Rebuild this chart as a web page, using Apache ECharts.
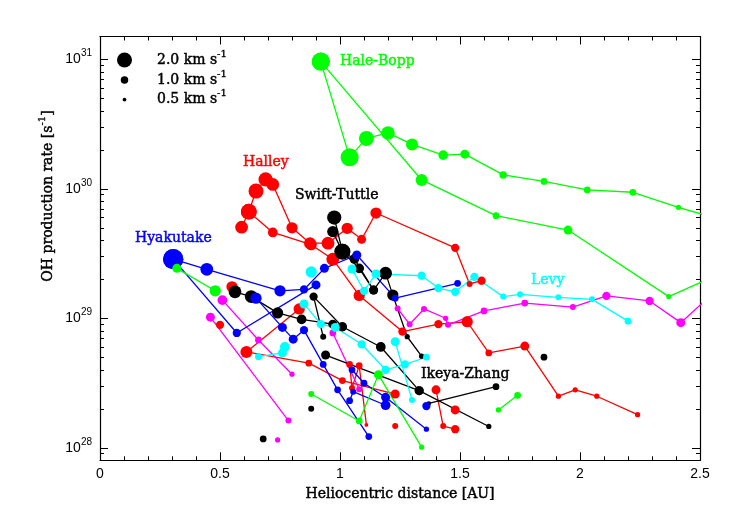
<!DOCTYPE html>
<html>
<head>
<meta charset="utf-8">
<script src="https://cdn.jsdelivr.net/npm/echarts@6/dist/echarts.min.js"></script>
<style>
  html, body { margin: 0; padding: 0; background: #fff; }
  #chart { width: 747px; height: 523px; }
</style>
</head>
<body>
<div id="chart"></div>
<script>
// each point: [heliocentric distance (AU), OH production rate (s^-1), velocity (km/s)]
const haleBoppA = [[0.92, 9.6e30, 2.4], [1.04, 1.75e30, 2.4], [1.11, 2.45e30, 2.0], [1.20, 2.7e30, 1.8], [1.30, 2.2e30, 1.6],
  [1.43, 1.82e30, 1.3], [1.52, 1.85e30, 1.2], [1.68, 1.28e30, 1.0], [1.85, 1.14e30, 0.9], [2.03, 9.8e29, 0.9],
  [2.22, 9.4e29, 0.9], [2.41, 7.2e29, 0.7], [2.58, 5.8e29, 0.7]];
const haleBoppB = [[0.92, 9.6e30, 2.4], [1.34, 1.17e30, 1.6], [1.65, 6.2e29, 0.9], [1.95, 4.8e29, 1.2], [2.37, 1.47e29, 0.7], [2.67, 2.6e29, 0.7]];
const greenC = [[0.32, 2.43e29, 1.2], [0.48, 1.63e29, 1.5]];
const greenD = [[0.88, 2.6e28, 0.8], [1.08, 1.61e28, 0.9], [1.16, 3.67e28, 1.2], [1.34, 1.01e28, 0.7]];
const greenE = [[1.66, 1.96e28, 0.7], [1.74, 2.54e28, 0.9]];

const hyakutakeA = [[0.305, 2.86e29, 2.7], [0.445, 2.39e29, 1.7], [0.75, 1.63e29, 1.5], [0.85, 1.67e29, 1.1],
  [0.935, 2.43e29, 1.2], [1.07, 3.08e29, 1.2], [1.23, 1.43e29, 0.9], [1.49, 1.86e29, 0.9]];
const hyakutakeB = [[0.305, 2.86e29, 2.7], [0.57, 7.7e28, 1.1], [0.90, 1.81e29, 1.2]];
const blueC = [[0.65, 1.43e29, 1.5], [0.76, 8.5e28, 1.2], [0.805, 6.9e28, 1.2], [0.85, 8.1e28, 1.1],
  [0.93, 4.4e28, 0.9], [0.99, 2.8e28, 0.9], [1.12, 1.22e28, 0.9]];
const blueD = [[1.05, 4.0e28, 0.9], [1.10, 3.15e28, 0.9], [1.19, 2.45e28, 1.2], [1.36, 1.39e28, 0.7]];
const blueE = [[1.04, 2.31e28, 0.9], [1.055, 2.71e28, 0.8], [1.19, 2.13e28, 1.3]];
const blueF = [[1.36, 2.1e28, 1.1]];

const halleyA = [[0.59, 5.05e29, 1.7], [0.62, 6.65e29, 2.1], [0.65, 9.6e29, 2.0], [0.69, 1.18e30, 1.9], [0.72, 1.08e30, 1.7],
  [0.80, 5.0e29, 1.5], [0.875, 3.8e29, 1.6], [0.95, 3.8e29, 1.7], [1.03, 4.95e29, 1.5], [1.09, 4.07e29, 1.2],
  [1.15, 6.5e29, 1.5], [1.48, 3.5e29, 1.1], [1.54, 1.84e29, 0.8], [1.59, 1.95e29, 1.1]];
const halleyB = [[0.62, 6.65e29, 2.1], [0.72, 4.6e29, 1.3], [0.88, 3.7e29, 1.5], [0.97, 2.86e29, 1.7], [1.08, 1.5e29, 1.5],
  [1.26, 7.9e28, 1.1], [1.41, 9.0e28, 1.1], [1.53, 9.4e28, 1.5], [1.62, 5.4e28, 0.9], [1.77, 6.1e28, 1.2],
  [1.91, 2.5e28, 0.7], [1.98, 2.8e28, 0.7], [2.07, 2.5e28, 0.7], [2.24, 1.8e28, 0.7]];
const redC = [[0.55, 1.75e29, 1.5]];
const redD = [[0.50, 8.9e28, 1.1]];
const redE = [[0.83, 1.18e29, 1.5], [0.61, 5.5e28, 1.6], [0.87, 4.5e28, 0.9], [1.01, 3.3e28, 0.9], [1.23, 2.6e28, 1.2]];
const redF = [[1.04, 4.4e28, 0.9], [1.05, 2.9e28, 0.8], [1.08, 4.3e28, 0.9], [1.11, 1.5e28, 0.5]];
const redG = [[1.23, 1.47e28, 0.8]];
const redH = [[1.40, 2.8e28, 1.2], [1.43, 1.47e28, 0.8], [1.48, 1.39e28, 1.1]];
const redI = [[1.48, 1.96e28, 1.2]];

const swiftTuttleA = [[0.976, 6.0e29, 1.9], [1.01, 3.27e29, 2.1], [1.08, 2.43e29, 1.3], [1.14, 1.65e29, 1.2],
  [1.19, 2.23e29, 1.7], [1.22, 1.51e29, 1.5], [1.28, 7.2e28, 0.7], [1.34, 5.1e28, 0.7]];
const swiftTuttleB = [[0.97, 4.67e29, 1.5], [1.01, 3.27e29, 2.1], [1.06, 2.87e29, 1.3], [1.14, 1.65e29, 1.2]];
const blackC = [[0.5625, 1.6e29, 1.7], [0.63, 1.47e29, 1.7], [0.74, 1.1e29, 1.5], [0.84, 9.8e28, 1.3], [0.97, 9.0e28, 1.2],
  [1.01, 8.6e28, 1.2], [1.17, 6.0e28, 1.3], [1.33, 2.76e28, 1.2], [1.62, 1.46e28, 0.7]];
const ikeyaZhangA = [[0.94, 5.2e28, 1.2], [1.33, 2.76e28, 1.2]];
const ikeyaZhangB = [[1.37, 2.2e28, 0.6], [1.65, 2.96e28, 0.9]];
const blackD = [[0.93, 7.2e28, 0.8], [0.89, 1.47e29, 1.1], [1.01, 8.6e28, 1.2]];
const blackE = [[0.88, 2.0e28, 0.8]];
const blackF = [[0.68, 1.17e28, 0.9]];
const blackG = [[1.85, 5.0e28, 0.9]];

const magentaA = [[0.51, 1.38e29, 1.3], [0.66, 6.8e28, 0.9], [0.80, 3.7e28, 0.7]];
const magentaB = [[0.46, 1.02e29, 1.2], [0.785, 1.62e28, 0.8]];
const magentaC = [[0.74, 1.15e28, 0.7]];
const magentaD = [[1.24, 1.19e29, 0.8], [1.29, 9.0e28, 0.8], [1.35, 1.18e29, 0.8], [1.44, 1.0e29, 0.7], [1.45, 8.9e28, 0.8],
  [1.60, 1.14e29, 0.9], [1.77, 1.31e29, 0.9], [1.97, 1.22e29, 0.8], [2.11, 1.49e29, 1.1], [2.29, 1.36e29, 1.1],
  [2.42, 9.25e28, 1.2], [2.63, 2.1e29, 0.9]];
const magentaE = [[0.97, 7.7e28, 0.9], [1.08, 2.83e28, 0.8]];

const levyA = [[1.05, 2.4e29, 1.2], [1.10, 1.63e29, 1.1], [1.15, 2.2e29, 1.2], [1.34, 2.13e29, 1.1], [1.41, 1.71e29, 1.1],
  [1.48, 1.6e29, 1.1], [1.56, 2.09e29, 1.1], [1.68, 1.47e29, 0.8], [1.75, 1.53e29, 0.8], [1.91, 1.45e29, 0.8],
  [2.05, 1.4e29, 0.8], [2.20, 9.5e28, 0.9]];
const cyanB = [[0.88, 2.28e29, 1.5]];
const cyanC = [[0.85, 1.29e29, 1.2], [0.92, 9.0e28, 1.1], [0.98, 8.5e28, 1.2], [1.09, 6.3e28, 1.1], [1.19, 4.0e28, 1.1],
  [1.27, 4.4e28, 1.1], [1.36, 5.0e28, 0.9]];
const cyanD = [[1.23, 6.6e28, 1.2], [1.30, 2.34e28, 0.8]];
const cyanE = [[0.66, 5.05e28, 0.9], [0.76, 5.4e28, 1.2], [0.77, 6.0e28, 1.3]];

const legendSpeeds = [2.0, 1.0, 0.5];
const xTicks = [0, 0.5, 1, 1.5, 2, 2.5];
const yMajor = [1e28, 1e29, 1e30, 1e31];
const yMinorMult = [2, 3, 4, 5, 6, 7, 8, 9];

const RED = "#ff0000", GREEN = "#00ff00", BLUE = "#0000ff", BLACK = "#000000", MAGENTA = "#ff00ff", CYAN = "#00ffff";
const SIZE_PER_KMS = 7.5; // symbol diameter in px per km/s
const SERIF = "DejaVu Serif";
const SANS = "Liberation Sans";

const tracks = [
  [halleyA, RED], [halleyB, RED], [redC, RED], [redD, RED], [redE, RED], [redF, RED], [redG, RED], [redH, RED], [redI, RED],
  [magentaA, MAGENTA], [magentaB, MAGENTA], [magentaC, MAGENTA], [magentaD, MAGENTA], [magentaE, MAGENTA],
  [swiftTuttleA, BLACK], [swiftTuttleB, BLACK], [blackC, BLACK], [ikeyaZhangA, BLACK], [ikeyaZhangB, BLACK],
  [blackD, BLACK], [blackE, BLACK], [blackF, BLACK], [blackG, BLACK],
  [hyakutakeA, BLUE], [hyakutakeB, BLUE], [blueC, BLUE], [blueD, BLUE], [blueE, BLUE], [blueF, BLUE],
  [levyA, CYAN], [cyanB, CYAN], [cyanC, CYAN], [cyanD, CYAN], [cyanE, CYAN],
  [haleBoppA, GREEN], [haleBoppB, GREEN], [greenC, GREEN], [greenD, GREEN], [greenE, GREEN],
];

const yMinor = [];
[1e27, 1e28, 1e29, 1e30].forEach((d) => yMinorMult.forEach((m) => yMinor.push(m * d)));

const Q_MIN = 8.0e27;
const Q_MAX = 1.5e31;

const chart = echarts.init(document.getElementById("chart"));

const xAxisBase = {
  type: "value",
  min: 0,
  max: 2.5,
  interval: 0.5,
  axisLine: { show: true, onZero: false, lineStyle: { color: "#000", width: 1.2 } },
  axisTick: { show: true, inside: true, length: 8, lineStyle: { color: "#000", width: 1 } },
  minorTick: { show: true, splitNumber: 5, length: 4, lineStyle: { color: "#000", width: 1 } },
  splitLine: { show: false },
  minorSplitLine: { show: false },
};

const yAxisBase = (position, values, len, showLine) => ({
  type: "log",
  position,
  min: Q_MIN,
  max: Q_MAX,
  axisLine: { show: showLine, onZero: false, lineStyle: { color: "#000", width: 1.2 } },
  axisTick: { show: true, inside: true, length: len, customValues: values, lineStyle: { color: "#000", width: 1 } },
  axisLabel: { show: false },
  splitLine: { show: false },
  minorTick: { show: false },
});

const leftMajor = yAxisBase("left", yMajor, 8, true);
leftMajor.axisLabel = {
  show: true,
  customValues: yMajor,
  margin: 8,
  formatter: (v) => "10{sup|" + Math.round(Math.log10(v)) + "}",
  color: "#000",
  fontFamily: SANS,
  fontSize: 14,
  lineHeight: 22,
  rich: {
    sup: { fontFamily: SANS, fontSize: 10, lineHeight: 10, verticalAlign: "top", color: "#000" },
  },
};

// serif text a little heavier, like the plotting package's stroked font
const serifStyle = (color) => ({ font: "14px '" + SERIF + "'", fill: color, stroke: color, lineWidth: 0.45 });
const supRich = { sup: { fontFamily: SERIF, fontSize: 10, lineHeight: 10, verticalAlign: "top", fill: "#000",
  stroke: "#000", lineWidth: 0.35 } };

const legendGraphics = [];
legendSpeeds.forEach((s, i) => {
  const cy = [60, 80, 99.5][i];
  legendGraphics.push({
    type: "circle",
    shape: { cx: 124.5, cy, r: (s * SIZE_PER_KMS) / 2 },
    style: { fill: "#000" },
  });
  legendGraphics.push({
    type: "text",
    x: 157,
    y: cy,
    style: { ...serifStyle("#000"), text: s.toFixed(1) + " km s{sup|-1}", verticalAlign: "middle", lineHeight: 22, rich: supRich },
  });
});

const cometLabel = (text, x, y, color) => ({
  type: "text",
  x,
  y,
  style: { ...serifStyle(color), text, verticalAlign: "middle", textAlign: "left" },
});

chart.setOption({
  animation: false,
  backgroundColor: "#fff",
  grid: { left: 100, right: 47, top: 36.5, bottom: 62.7, containLabel: false, outerBoundsMode: "none" },
  xAxis: [
    {
      ...xAxisBase,
      position: "bottom",
      axisLabel: { show: true, color: "#000", fontFamily: SANS, fontSize: 14, margin: 7,
        customValues: xTicks, formatter: (v) => String(v) },
    },
    { ...xAxisBase, position: "top", axisLabel: { show: false } },
  ],
  yAxis: [
    leftMajor,
    yAxisBase("left", yMinor, 4, false),
    yAxisBase("right", yMajor, 8, true),
    yAxisBase("right", yMinor, 4, false),
  ],
  series: tracks.map(([data, color]) => ({
    type: "line",
    xAxisIndex: 0,
    yAxisIndex: 0,
    data,
    symbol: "circle",
    symbolSize: (val) => val[2] * SIZE_PER_KMS,
    showSymbol: true,
    clip: true,
    silent: true,
    lineStyle: { color, width: 1.3 },
    itemStyle: { color, borderWidth: 0 },
    emphasis: { disabled: true },
  })),
  graphic: [
    ...legendGraphics,
    cometLabel("Hale-Bopp", 340, 61, GREEN),
    cometLabel("Halley", 243, 162, RED),
    cometLabel("Swift-Tuttle", 295, 195, BLACK),
    cometLabel("Hyakutake", 135, 238, BLUE),
    cometLabel("Levy", 531, 280, CYAN),
    cometLabel("Ikeya-Zhang", 421, 374, BLACK),
    {
      type: "text",
      x: 400,
      y: 494,
      style: { ...serifStyle("#000"), text: "Heliocentric distance [AU]", textAlign: "center", verticalAlign: "middle" },
    },
    {
      type: "text",
      x: 48,
      y: 196,
      rotation: Math.PI / 2,
      style: { ...serifStyle("#000"), text: "OH production rate [s{sup|-1}]", textAlign: "center", verticalAlign: "middle",
        lineHeight: 22, rich: supRich },
    },
  ],
});
</script>
</body>
</html>
